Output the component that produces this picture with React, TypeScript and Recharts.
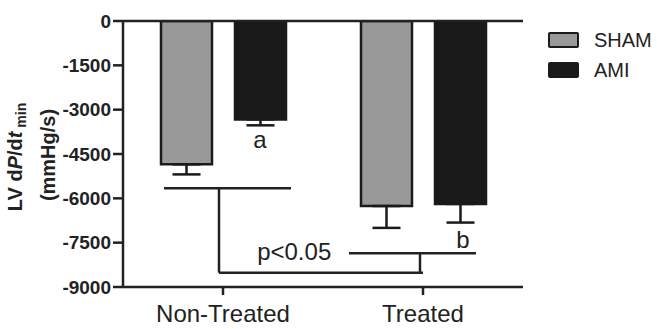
import { ComposedChart, Bar, XAxis, YAxis, ErrorBar, ReferenceLine, ReferenceDot, Legend } from 'recharts';

const categories = ['Non-Treated', 'Treated'];
const shamValues = [-4850, -6260];
const shamErrors = [340, 740];
const amiValues = [-3330, -6190];
const amiErrors = [200, 630];
const yTicks = [0, -1500, -3000, -4500, -6000, -7500, -9000];

// bracket segments: x as a share of the plot width (0..1), y in mmHg/s
const bracketLines = [
  [[0.1025, -5660], [0.42, -5660]],
  [[0.24, -5660], [0.24, -8516]],
  [[0.24, -8516], [0.75, -8516]],
  [[0.7425, -8516], [0.7425, -7860]],
  [[0.565, -7860], [0.8825, -7860]],
];
const notes = [
  { text: 'a', x: 0.3425, y: -4300 },
  { text: 'b', x: 0.85, y: -7680 },
  { text: 'p<0.05', x: 0.428, y: -8090 },
];

const series = [
  { key: 'sham', name: 'SHAM', fill: '#999999' },
  { key: 'ami', name: 'AMI', fill: '#1a1a1a' },
];

const data = categories.map((name, i) => ({
  name,
  sham: shamValues[i],
  shamErr: [shamErrors[i], 0],
  ami: amiValues[i],
  amiErr: [amiErrors[i], 0],
}));

const FONT = '"Liberation Sans", Arial, Helvetica, sans-serif';
const INK = '#222';

const AxisTitle = () => (
  <g fontFamily={FONT} fontWeight="bold" fill={INK}>
    <text transform="translate(22,157) rotate(-90)" textAnchor="middle" fontSize={20}>
      LV d<tspan fontStyle="italic">P</tspan>/d<tspan fontStyle="italic">t</tspan>
      <tspan fontSize={14} dy={4}> min</tspan>
    </text>
    <text transform="translate(55,155) rotate(-90)" textAnchor="middle" fontSize={20}>
      (mmHg/s)
    </text>
  </g>
);

const LegendBox = () => (
  <div style={{ fontFamily: FONT, color: INK, fontSize: 20 }}>
    {series.map((s) => (
      <div key={s.key} style={{ display: 'flex', alignItems: 'center', height: 30 }}>
        <div
          style={{
            width: 31,
            height: 16,
            boxSizing: 'border-box',
            background: s.fill,
            border: '2.5px solid #1a1a1a',
            borderRadius: 2,
            marginRight: 15,
          }}
        />
        <span>{s.name}</span>
      </div>
    ))}
  </div>
);

const NoteText = (text: string) => (p: any) => (
  <text x={p.cx} y={p.cy} textAnchor="middle" fontSize={24} fontFamily={FONT} fill={INK}>
    {text}
  </text>
);

export default function App() {
  return (
    <div style={{ position: 'absolute', left: 0, top: 0 }}>
      <ComposedChart
        width={657}
        height={329}
        data={data}
        margin={{ top: 21, right: 134, bottom: 12, left: 0 }}
        barGap={23}
      >
        <XAxis
          dataKey="name"
          height={30}
          axisLine={{ stroke: INK, strokeWidth: 2.5 }}
          tickLine={{ stroke: INK, strokeWidth: 2.5 }}
          tickSize={8}
          tickMargin={10}
          tick={{ fontSize: 24, fill: INK, fontFamily: FONT }}
        />
        <XAxis xAxisId="num" type="number" domain={[0, 1]} allowDataOverflow hide />
        <YAxis
          type="number"
          domain={[-9000, 0]}
          ticks={yTicks}
          interval={0}
          width={123}
          allowDataOverflow
          axisLine={{ stroke: INK, strokeWidth: 2.5 }}
          tickLine={{ stroke: INK, strokeWidth: 2.5 }}
          tickSize={10}
          tickMargin={2}
          tick={{ fontSize: 19, fontWeight: 'bold', fill: INK, fontFamily: FONT }}
          label={<AxisTitle />}
        />
        {series.map((s) => (
          <Bar
            key={s.key}
            dataKey={s.key}
            name={s.name}
            fill={s.fill}
            stroke="#1a1a1a"
            strokeWidth={2.5}
            barSize={51}
            isAnimationActive={false}
          >
            <ErrorBar dataKey={`${s.key}Err`} width={14} stroke="#1a1a1a" strokeWidth={2.5} direction="y" />
          </Bar>
        ))}
        <ReferenceLine y={0} stroke={INK} strokeWidth={2.5} />
        {bracketLines.map((seg, i) => (
          <ReferenceLine
            key={i}
            xAxisId="num"
            segment={[
              { x: seg[0][0], y: seg[0][1] },
              { x: seg[1][0], y: seg[1][1] },
            ]}
            stroke={INK}
            strokeWidth={2.5}
            ifOverflow="visible"
          />
        ))}
        {notes.map((n) => (
          <ReferenceDot key={n.text} xAxisId="num" x={n.x} y={n.y} r={0} shape={NoteText(n.text)} ifOverflow="visible" />
        ))}
        <Legend
          layout="vertical"
          align="center"
          verticalAlign="middle"
          content={<LegendBox />}
          wrapperStyle={{ left: 548, top: 25, width: 'auto' }}
        />
      </ComposedChart>
    </div>
  );
}
